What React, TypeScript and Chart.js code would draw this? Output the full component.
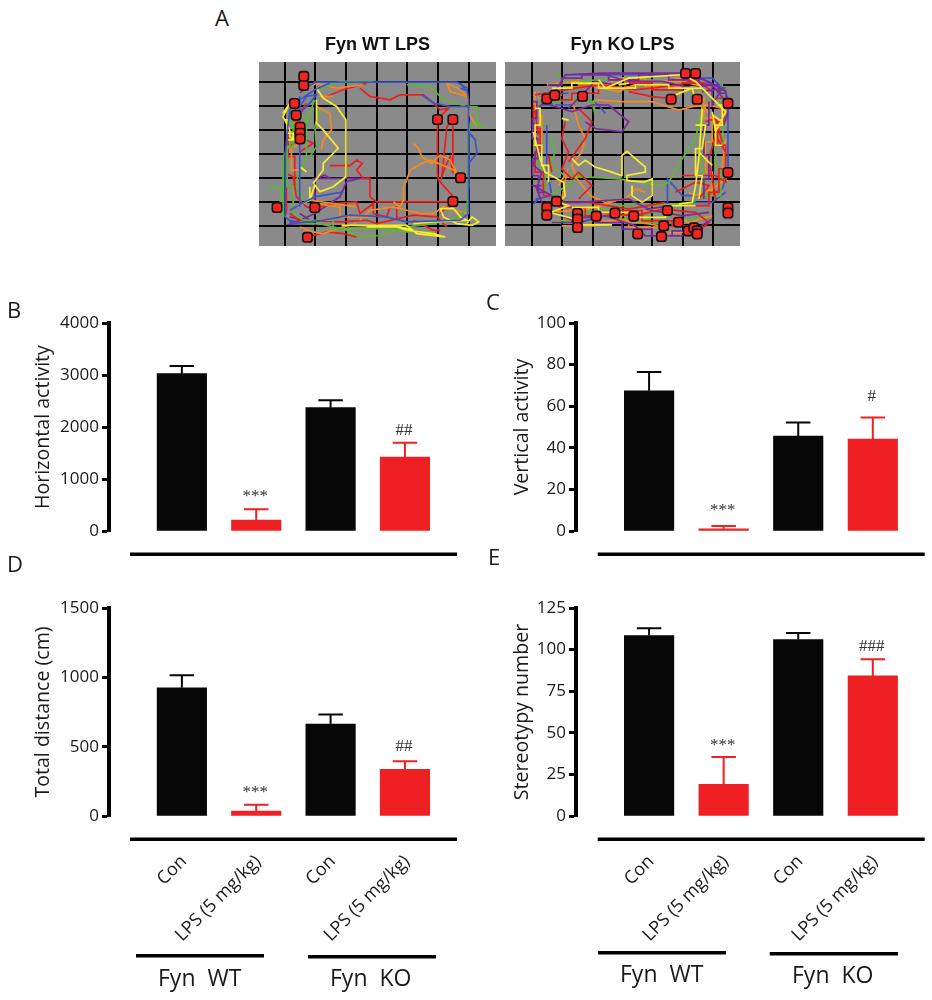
import React, { useEffect, useRef } from "react";
import { Chart, registerables } from "chart.js";

Chart.register(...registerables);

const categories = ["Con", "LPS (5 mg/kg)", "Con", "LPS (5 mg/kg)"];
const barColors = ["#070707", "#ee2024", "#070707", "#ee2024"];

const horizontalMean = [3025, 212, 2372, 1423];
const horizontalTop = [3173, 417, 2513, 1698];
const horizontalMarks = ["", "***", "", "##"];
const horizontalTicks = [0, 1000, 2000, 3000, 4000];

const verticalMean = [67.4, 1.1, 45.6, 44.2];
const verticalTop = [76.5, 2.4, 52.2, 54.6];
const verticalMarks = ["", "***", "", "#"];
const verticalTicks = [0, 20, 40, 60, 80, 100];

const distanceMean = [924, 36, 662, 336];
const distanceTop = [1015, 82, 732, 394];
const distanceMarks = ["", "***", "", "##"];
const distanceTicks = [0, 500, 1000, 1500];

const stereotypyMean = [108.4, 19, 106, 84.2];
const stereotypyTop = [112.8, 35.4, 110, 94.2];
const stereotypyMarks = ["", "***", "", "###"];
const stereotypyTicks = [0, 25, 50, 75, 100, 125];

// Open-field tracks (arena image coordinates).
const wtGridX = [255, 347, 438, 530, 622, 714, 805];
const wtGridY = [248, 320, 391, 462, 533, 604, 676];
const koGridX = [110, 202, 292, 382, 471, 561, 652];
const koGridY = [180, 250, 320, 389, 459, 528, 598];

const wtRed = [
  [380,290,430,270,500,250],
  [480,265,510,290,570,300,600,285,670,285,700,310,720,330,745,325,712,359,712,520,715,540,760,590],
  [758,359,758,520,750,470,735,500,725,530,740,380,758,359],
  [390,497,450,497,470,480,487,490,470,510,490,535,510,535,510,590,530,605,710,605,760,604,720,640],
  [300,455,340,430,320,420,305,420,260,440,260,520,280,530,290,590,320,620,345,622,400,610,470,605,480,640,520,610,520,640,560,650,570,620,590,620,590,660],
  [290,370,305,330,320,310],
  [323,711,380,695,430,700,470,710],
  [270,640,300,660,420,665,500,660,530,670,640,645,710,650,740,680],
  [640,660,700,690,720,690],
  [270,340,285,340,285,400,265,400,265,470,285,470,285,560,260,560,260,640],
];
const wtOrange = [
  [300,280,350,250,410,265,490,255],
  [350,320,390,340,395,390,370,420,365,450],
  [640,430,655,445,665,470,695,490,720,465,750,480,775,530,760,510,690,480,665,490,630,510,620,540,610,560,610,600,600,620,580,605],
  [800,290,780,270,740,250,750,275,800,290,810,350,830,380],
  [480,660,510,630,580,620,620,630,660,640,700,640,730,620,800,640],
  [300,680,340,695,370,700,430,680,470,670],
  [330,600,400,610,470,620],
  [360,290,400,290],
  [270,370,290,370,290,440,275,440,275,510,300,510],
  [340,610,420,620,420,650,520,650],
];
const wtGreen = [
  [210,565,240,560,250,600,220,620,235,635,260,650],
  [250,650,250,470,290,400,270,340],
  [350,270,420,245,520,245],
  [620,255,690,260,730,300,800,320,830,320,830,370,850,380,810,370,805,400,805,560,800,620,780,650,700,670,620,680,540,705,480,710,440,690,360,670,280,670],
  [330,470,350,440,345,380,360,330],
  [345,300,330,340,320,380,320,470,290,540,310,600],
  [800,550,770,530],
  [262,370,280,370,280,440,262,440,262,560,280,560,280,640,310,660,400,660,400,685,560,685,620,695,700,695],
  [300,350,320,350,320,430,300,430],
];
const wtBlue = [
  [300,280,345,247,530,247,770,247,800,265,805,300,805,460,805,640,780,660,620,665,560,650,450,645,370,660,280,670,256,650,256,470,262,400,270,330,300,300,345,270,390,250],
  [300,290,300,620],
  [665,285,700,310,750,320,805,320],
  [800,390,825,420,830,460,805,490],
  [780,250,795,270,780,265],
  [270,630,345,590,430,575],
  [270,340,300,320,320,290,350,285,330,310,290,350],
];
const wtPurple = [
  [270,670,300,660,345,640,420,590,440,545,480,535,510,535,345,535,375,525,390,535],
  [345,535,345,620],
  [268,660,320,672,270,672,300,660],
  [300,640,345,670,270,650],
];
const wtYellow = [
  [350,265,370,295,410,320,438,360,438,530,400,560,360,575,345,555,330,600],
  [350,300,350,370,370,390,415,445,370,490,370,510,340,550],
  [250,340,270,310,260,330,250,350,270,390,270,410,285,420],
  [300,500,320,515],
  [425,675,620,675,650,700,735,710,700,700,620,690,590,680,500,680],
  [800,670,815,650,835,665,815,675,770,670,730,650,720,625,760,625,780,650,800,660,700,665,640,670],
  [255,360,262,360,262,400,280,400,280,420,265,420],
  [290,620,330,600,330,560],
  [440,675,600,680,640,690],
];
const wtMarkersX = [312,312,284,289,301,301,301,712,758,781,758,232,345,323];
const wtMarkersY = [230,257,311,346,382,400,417,359,359,533,604,622,622,711];

const koRed = [
  [120,210,180,200,240,190,320,180,420,195,550,180,600,165,650,200],
  [210,290,200,340,220,380,200,430,230,460,250,440,290,480,250,520],
  [250,250,290,290,270,340,220,410],
  [155,222,120,260,130,330],
  [560,450,660,450,690,470,690,380,660,330,640,400,660,520],
  [540,500,600,470,640,480,610,520],
  [300,560,420,570,500,550,600,560,640,590,605,620],
  [180,530,280,530,400,550,510,530],
  [630,290,660,280,680,350],
  [170,440,160,390],
  [400,200,470,215,520,220],
  [200,570,245,590],
  [115,240,115,310,135,310,135,380,120,380,120,440,145,440,145,510,170,510],
  [170,200,170,225,230,225,230,205,310,205,310,190,390,190,390,175,470,175,470,195,560,195,560,175,630,175],
  [660,220,685,220,685,290,665,290,665,360,690,360,690,430,670,430,670,500,640,500,640,540,570,540],
  [190,545,270,545,270,570,360,570,360,555,440,555,440,585,530,585,530,600,610,600],
];
const koOrange = [
  [155,180,240,170,320,190,370,200,440,170,560,170,640,190],
  [230,220,250,300,270,340,260,380,230,420,245,460,285,510,330,530,390,520,420,490,450,500],
  [300,225,380,230,470,230,550,255,590,245,640,240,680,250,690,300],
  [690,340,680,420,690,460,650,490,600,510,580,500],
  [200,520,215,440,190,480],
  [500,600,430,590,360,580,400,560,500,550,580,590,650,570],
  [170,560,280,550,380,520],
  [130,220,200,210],
  [610,200,630,250,660,300],
  [120,200,120,270,140,270,140,350,125,350],
  [250,155,250,180,350,180,350,160,450,160,450,185,540,185,540,160,620,160],
  [625,215,625,280,650,280,650,350,630,350,630,440,650,440,650,510],
  [200,600,300,600,300,585,400,585,400,605,500,605,500,620,600,620],
];
const koGreen = [
  [180,145,210,170,320,165,400,160,520,170],
  [295,225,300,270,290,230,250,220,120,240,115,300],
  [165,330,180,380,165,420,210,450,370,460,500,480,520,470,560,400,600,340,620,250,600,200],
  [690,450,640,500,590,530,500,540,380,540,250,565,240,600,350,597],
  [690,250,680,330,690,440],
  [630,480,610,370,620,290],
  [160,510,220,480,260,440],
  [420,590,520,590,640,570],
  [125,300,140,300,140,360,125,360,125,430,150,430,150,500],
  [620,180,680,180,680,225,640,225,640,290],
  [660,340,660,430,675,430,675,510,620,510],
  [180,585,290,585,290,560,370,560,370,580,460,580,460,560,550,560],
];
const koBlue = [
  [210,150,330,150,520,150],
  [155,300,155,420,170,510,125,520,115,535,130,520],
  [330,265,310,240,280,225],
  [697,240,697,440,680,490,640,510,560,510,516,460,516,555,480,560],
  [600,170,690,190],
  [180,240,240,240],
  [125,240,170,240,170,205,220,205],
  [540,160,650,160,690,200,700,240],
  [590,530,650,530,690,500],
];
const koPurple = [
  [120,260,180,200,210,150,320,145,560,145,640,170,690,200,697,260,685,300],
  [115,290,125,370,115,420,140,440,125,490,140,530,180,560,250,590,330,570,420,600,450,630,560,630,600,610,650,580],
  [165,240,230,260,290,240,340,240,400,290,380,320,300,310,270,290],
  [220,250,300,170,360,180],
  [140,480,115,480,170,510],
  [450,550,560,570,640,560],
  [620,200,680,190,650,240,650,180,690,230],
  [150,530,250,530,400,520,460,550,520,540],
  [600,150,650,180,590,190,500,170,400,170,330,150],
  [112,230,125,230,125,280,112,280,112,340,128,340,128,400,112,400,112,450,130,450,130,500,150,500],
  [160,180,200,180,200,160,260,160,260,150,340,150,340,165,430,165,430,150,520,150,520,165,610,165,610,180,670,180,670,205,690,205],
  [170,590,230,590,230,575,300,575,300,590,380,590,380,610,470,610,470,630,530,630,530,615,600,615],
  [640,230,640,300,625,300,625,390,640,390,640,460,625,460,625,520],
];
const koYellow = [
  [310,165,330,190,400,160,560,150,600,170,640,210,690,260,670,300,660,320,650,260],
  [200,280,220,285],
  [115,320,135,400,150,440,205,470,210,510,190,530,220,540,165,560,240,580,250,597,350,597],
  [230,400,250,420,270,405,300,425,350,440,378,450,380,390,395,378,450,425,450,440,395,450,395,465,445,470,470,460,470,510,440,530,410,510,410,480],
  [620,250,610,400,600,480,590,530,550,535],
  [610,380,640,410,650,420],
  [540,210,590,190,600,225],
  [650,270,680,290],
  [370,180,400,175],
  [120,250,135,250,135,300,120,300,120,360,140,360,140,420,160,420,160,470],
  [170,190,230,190,230,175,310,175,310,190,420,190,420,180,520,180,520,190,620,190],
  [665,240,680,240,680,300,660,300,660,360,680,360],
  [230,545,310,545,310,560,410,560,410,575,510,575,510,540,600,540],
  [600,300,630,300,620,370,600,370,600,450,620,450,610,520],
];
const koMarkersX = [155,179,262,527,605,570,600,697,697,697,697,184,155,155,247,247,247,303,359,415,516,549,505,427,498,578,595,605,605];
const koMarkersY = [222,211,214,223,223,146,146,235,441,546,562,527,545,568,563,580,605,571,562,571,554,589,600,624,632,615,606,615,624];

const SANS = '"Open Sans", "Noto Sans", sans-serif';
const INK = "#1a1a1a";

function toPoints(paths: number[][]) {
  const out: { x: number; y: number }[] = [];
  paths.forEach((p) => {
    for (let i = 0; i < p.length; i += 2) out.push({ x: p[i], y: p[i + 1] });
    out.push({ x: NaN, y: NaN });
  });
  return out;
}

function BarPanel(props: any) {
  const ref = useRef<HTMLCanvasElement>(null);
  const { left, top, width, height, title, mean, tops, marks, ticks, axisX, rightX, areaTop, areaBottom, rules, showLabels, titleGap, markGaps } = props;
  useEffect(() => {
    const errorPlugin = {
      id: "errorBars",
      afterDatasetsDraw(chart: any) {
        const { ctx, scales } = chart;
        ctx.save();
        mean.forEach((v: number, i: number) => {
          const x = scales.x.getPixelForValue(i);
          const y0 = scales.y.getPixelForValue(v);
          const y1 = scales.y.getPixelForValue(tops[i]);
          ctx.strokeStyle = barColors[i];
          ctx.lineWidth = 2;
          ctx.beginPath();
          ctx.moveTo(x, y0);
          ctx.lineTo(x, y1);
          ctx.moveTo(x - 12.25, y1);
          ctx.lineTo(x + 12.25, y1);
          ctx.stroke();
          if (marks[i]) {
            ctx.fillStyle = "#333";
            ctx.font = '17px "Liberation Serif", serif';
            ctx.textAlign = "center";
            ctx.textBaseline = "middle";
            ctx.fillText(marks[i], x - 1, y1 - markGaps[i]);
          }
        });
        ctx.strokeStyle = "#000";
        ctx.lineWidth = 3.5;
        rules.forEach((r: number[]) => {
          ctx.beginPath();
          ctx.moveTo(r[0] - left, r[2] - top);
          ctx.lineTo(r[1] - left, r[2] - top);
          ctx.stroke();
        });
        ctx.restore();
      },
    };
    const chart = new Chart(ref.current as HTMLCanvasElement, {
      type: "bar",
      data: {
        labels: categories,
        datasets: [
          {
            data: mean.map((v: number, i: number) => ({ x: i, y: v })),
            backgroundColor: barColors,
            barThickness: 49.5,
          },
        ],
      },
      options: {
        animation: false,
        responsive: false,
        layout: { padding: { top: areaTop - top, right: left + width - rightX, left: 0, bottom: 0 } },
        plugins: { legend: { display: false }, tooltip: { enabled: false } },
        scales: {
          x: {
            type: "linear",
            offset: false,
            min: -0.98,
            max: 3.7,
            afterFit: (s: any) => { s.height = top + height - areaBottom; },
            afterBuildTicks: (s: any) => { s.ticks = categories.map((_, i) => ({ value: i })); },
            grid: { display: false, offset: false },
            border: { display: false },
            ticks: {
              display: showLabels,
              autoSkip: false,
              minRotation: 45,
              maxRotation: 45,
              padding: 27,
              labelOffset: 2,
              color: INK,
              font: { family: SANS, size: 18 },
              callback: (v: any) => categories[v] ?? "",
            },
          },
          y: {
            min: 0,
            max: ticks[ticks.length - 1],
            afterFit: (s: any) => { s.width = axisX - left; },
            afterBuildTicks: (s: any) => { s.ticks = ticks.map((value: number) => ({ value })); },
            grid: { drawOnChartArea: false, tickLength: 7, tickWidth: 3, tickColor: "#000" },
            border: { color: "#000", width: 4 },
            ticks: { padding: 3, color: INK, font: { family: SANS, size: 17 }, callback: (v: any) => String(v) },
            title: {
              display: true,
              text: title,
              color: INK,
              font: { family: SANS, size: 19.6 },
              padding: { top: titleGap, bottom: 0 },
            },
          },
        },
      } as any,
      plugins: [errorPlugin],
    });
    return () => chart.destroy();
  }, []);
  return <canvas ref={ref} width={width} height={height} style={{ position: "absolute", left, top }} />;
}

function TrackPanel(props: any) {
  const ref = useRef<HTMLCanvasElement>(null);
  const { left, top, width, height, title, gridX, gridY, xMin, xMax, yMin, yMax, tracks, markersX, markersY } = props;
  useEffect(() => {
    const background = {
      id: "arenaFloor",
      beforeDraw(chart: any) {
        const { ctx, chartArea: a } = chart;
        ctx.save();
        ctx.fillStyle = "#8a8a8a";
        ctx.fillRect(a.left, a.top, a.right - a.left, a.bottom - a.top);
        ctx.restore();
      },
    };
    const axis = (min: number, max: number, grid: number[], reverse: boolean, horizontal: boolean) => ({
      type: "linear",
      min,
      max,
      reverse,
      afterFit: (s: any) => { if (horizontal) s.height = 0; else s.width = 0; },
      afterBuildTicks: (s: any) => { s.ticks = grid.map((value) => ({ value })); },
      grid: { color: "#000", lineWidth: 2, drawTicks: false },
      border: { display: false },
      ticks: { display: false },
    });
    const chart = new Chart(ref.current as HTMLCanvasElement, {
      type: "scatter",
      data: {
        datasets: [
          {
            data: markersX.map((x: number, i: number) => ({ x, y: markersY[i] })),
            pointStyle: "rectRounded",
            pointRadius: 5.5,
            backgroundColor: "#f4231f",
            borderColor: "#111",
            borderWidth: 1.6,
          },
          ...tracks.map((t: any) => ({
            type: "line",
            data: toPoints(t.paths),
            borderColor: t.color,
            borderWidth: 1.7,
            pointRadius: 0,
            fill: false,
            spanGaps: false,
            tension: 0,
          })),
        ],
      },
      options: {
        animation: false,
        responsive: false,
        layout: { padding: 0, autoPadding: false },
        plugins: {
          legend: { display: false },
          tooltip: { enabled: false },
          title: {
            display: true,
            text: title,
            color: "#111",
            font: { family: '"Liberation Sans", Arial, sans-serif', size: 18, weight: "bold", lineHeight: 1.2 },
            padding: { top: 0, bottom: 6.4 },
          },
        },
        scales: {
          x: axis(xMin, xMax, gridX, false, true),
          y: axis(yMin, yMax, gridY, true, false),
        },
      } as any,
      plugins: [background],
    });
    return () => chart.destroy();
  }, []);
  return <canvas ref={ref} width={width} height={height} style={{ position: "absolute", left, top }} />;
}

function Label({ x, y, size, children }: any) {
  return (
    <div
      style={{
        position: "absolute",
        left: x,
        top: y,
        fontFamily: SANS,
        fontSize: size,
        lineHeight: 1,
        color: INK,
        whiteSpace: "pre",
      }}
    >
      {children}
    </div>
  );
}

const TRACK_RED = "#ef1c1c";
const TRACK_ORANGE = "#f58a1f";
const TRACK_GREEN = "#5cb833";
const TRACK_BLUE = "#3a55c8";
const TRACK_PURPLE = "#7a2a9e";
const TRACK_YELLOW = "#f7ee2a";

export default function App() {
  const noLabels = false;
  return (
    <div style={{ position: "absolute", left: 0, top: 0, width: 932, height: 1000, background: "#fff", overflow: "hidden" }}>
      <TrackPanel
        left={259} top={34} width={237} height={212} title="Fyn WT LPS"
        gridX={wtGridX} gridY={wtGridY} xMin={178} xMax={887} yMin={187} yMax={737}
        tracks={[
          { color: TRACK_BLUE, paths: wtBlue },
          { color: TRACK_YELLOW, paths: wtYellow },
          { color: TRACK_GREEN, paths: wtGreen },
          { color: TRACK_ORANGE, paths: wtOrange },
          { color: TRACK_RED, paths: wtRed },
          { color: TRACK_PURPLE, paths: wtPurple },
        ]}
        markersX={wtMarkersX} markersY={wtMarkersY}
      />
      <TrackPanel
        left={505} top={34} width={235} height={212} title="Fyn KO LPS"
        gridX={koGridX} gridY={koGridY} xMin={30} xMax={733} yMin={112} yMax={660}
        tracks={[
          { color: TRACK_YELLOW, paths: koYellow },
          { color: TRACK_PURPLE, paths: koPurple },
          { color: TRACK_RED, paths: koRed },
          { color: TRACK_ORANGE, paths: koOrange },
          { color: TRACK_GREEN, paths: koGreen },
          { color: TRACK_BLUE, paths: koBlue },
        ]}
        markersX={koMarkersX} markersY={koMarkersY}
      />
      <BarPanel
        left={0} top={290} width={470} height={280} title="Horizontal activity"
        mean={horizontalMean} tops={horizontalTop} marks={horizontalMarks} ticks={horizontalTicks}
        axisX={109} rightX={457} areaTop={323} areaBottom={531} titleGap={32}
        markGaps={[0, 13, 0, 12]} rules={[[130, 457, 554.3]]} showLabels={noLabels}
      />
      <BarPanel
        left={470} top={290} width={462} height={280} title="Vertical activity"
        mean={verticalMean} tops={verticalTop} marks={verticalMarks} ticks={verticalTicks}
        axisX={576} rightX={925} areaTop={323} areaBottom={531} titleGap={41}
        markGaps={[0, 15, 0, 21]} rules={[[597.7, 924.7, 554.3]]} showLabels={noLabels}
      />
      <BarPanel
        left={0} top={570} width={470} height={430} title="Total distance (cm)"
        mean={distanceMean} tops={distanceTop} marks={distanceMarks} ticks={distanceTicks}
        axisX={109} rightX={457} areaTop={608} areaBottom={816} titleGap={32}
        markGaps={[0, 12, 0, 14.5]} rules={[[130, 457, 839.3], [136, 264, 955.7], [308, 436, 956.7]]} showLabels={true}
      />
      <BarPanel
        left={470} top={570} width={462} height={430} title="Stereotypy number"
        mean={stereotypyMean} tops={stereotypyTop} marks={stereotypyMarks} ticks={stereotypyTicks}
        axisX={576} rightX={925} areaTop={608} areaBottom={816} titleGap={41}
        markGaps={[0, 12, 0, 13]} rules={[[597.7, 924.7, 839.3], [598, 726, 952.7], [769.7, 898, 953.7]]} showLabels={true}
      />
      <Label x={215} y={6} size={22}>A</Label>
      <Label x={7} y={298} size={22}>B</Label>
      <Label x={486} y={290} size={22}>C</Label>
      <Label x={7} y={552} size={22}>D</Label>
      <Label x={488} y={545} size={22}>E</Label>
      <Label x={158} y={965.6} size={23}>{"Fyn  WT"}</Label>
      <Label x={330} y={965.6} size={23}>{"Fyn  KO"}</Label>
      <Label x={620} y={962} size={23}>{"Fyn  WT"}</Label>
      <Label x={792} y={963} size={23}>{"Fyn  KO"}</Label>
    </div>
  );
}
